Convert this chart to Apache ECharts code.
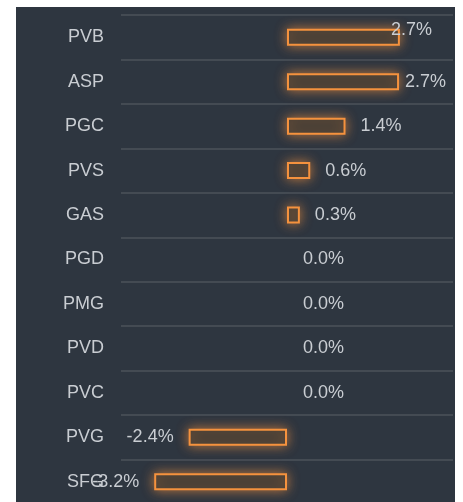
<!DOCTYPE html>
<html>
<head>
<meta charset="utf-8">
<script src="https://cdn.jsdelivr.net/npm/echarts@6/dist/echarts.min.js"></script>
<style>
  html, body { margin: 0; padding: 0; background: #ffffff; overflow: hidden; width: 463px; height: 502px; }
  #chart { position: absolute; left: 16px; top: 7px; width: 439px; height: 520px; background: #2e3640; }
</style>
</head>
<body>
<div id="chart"></div>
<script>
const categories = ['PVB', 'ASP', 'PGC', 'PVS', 'GAS', 'PGD', 'PMG', 'PVD', 'PVC', 'PVG', 'SFG'];
const values = [2.72, 2.7, 1.41, 0.56, 0.31, 0, 0, 0, 0, -2.37, -3.2];

const chart = echarts.init(document.getElementById('chart'), null, { renderer: 'canvas' });
const orange = '#f5923e';
const textColor = '#c9cdd2';

const data = values.map(v => {
  const item = { value: v, label: { position: v < 0 ? 'left' : 'right' } };
  if (v === 0) item.itemStyle = { borderColor: 'transparent', shadowBlur: 0, color: 'transparent' };
  return item;
});

chart.setOption({
  backgroundColor: '#2e3640',
  animation: false,
  grid: { left: 105, right: 2, top: 8, height: 489, containLabel: false },
  xAxis: {
    type: 'value', min: -4, max: 4, show: false
  },
  yAxis: {
    type: 'category',
    data: categories,
    inverse: true,
    axisLine: { show: false },
    axisTick: { show: false },
    axisLabel: { color: textColor, fontSize: 18, margin: 17, fontFamily: 'Liberation Sans, Arial, sans-serif' },
    splitLine: { show: true, lineStyle: { color: '#4d535a', width: 1.5 } }
  },
  series: [{
    type: 'bar',
    data: data,
    barWidth: 17,
    itemStyle: {
      color: '#3d3a36',
      borderColor: orange,
      borderWidth: 2,
      shadowBlur: 12,
      shadowColor: 'rgba(245,146,62,0.7)'
    },
    label: {
      show: true,
      distance: 15,
      color: textColor,
      fontSize: 18,
      fontFamily: 'Liberation Sans, Arial, sans-serif',
      formatter: p => p.value.toFixed(1) + '%'
    },
    labelLayout: function (params) {
      const r = params.labelRect;
      const limit = 430;
      if (r.x + r.width > limit) {
        let x = limit - r.width;
        let y = r.y;
        if (params.dataIndex === 0) { x -= 14; y -= 7; }
        return { x: x, y: y };
      }
      return {};
    }
  }]
});
</script>
</body>
</html>
